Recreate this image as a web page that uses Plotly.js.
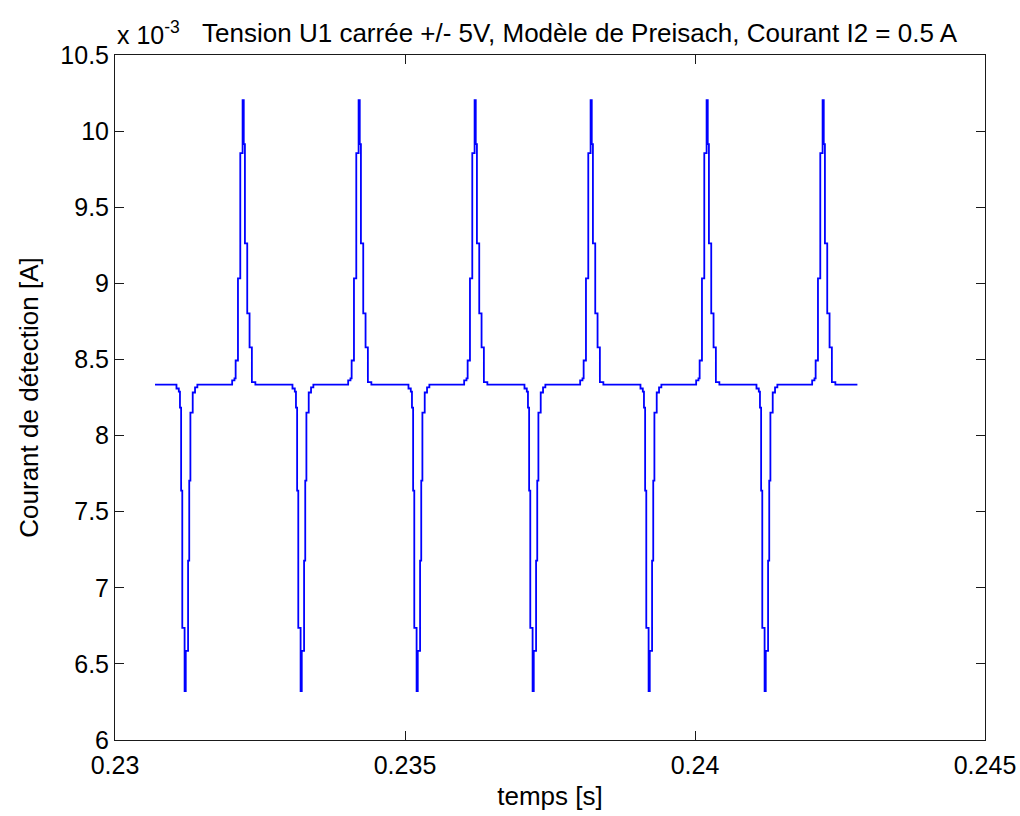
<!DOCTYPE html>
<html>
<head>
<meta charset="utf-8">
<script src="https://cdn.plot.ly/plotly-3.0.1.min.js"></script>
<style>html,body{margin:0;padding:0;background:#fff;}#chart{width:1020px;height:816px;}</style>
</head>
<body>
<div id="chart"></div>
<script>
// Time samples [s]
const temps_s = [
  0.23069,
  0.23106, 0.23110, 0.23112, 0.23114, 0.23116, 0.23120, 0.23122, 0.23126, 0.23128, 0.23130, 0.23134, 0.23138, 0.23142,
  0.23202, 0.23206, 0.23208, 0.23212, 0.23216, 0.23220, 0.23222, 0.23224, 0.23228, 0.23232, 0.23236, 0.23242,
  0.23306, 0.23310, 0.23312, 0.23314, 0.23316, 0.23320, 0.23322, 0.23326, 0.23328, 0.23330, 0.23334, 0.23338, 0.23342,
  0.23402, 0.23406, 0.23408, 0.23412, 0.23416, 0.23420, 0.23422, 0.23424, 0.23428, 0.23432, 0.23436, 0.23442,
  0.23506, 0.23510, 0.23512, 0.23514, 0.23516, 0.23520, 0.23522, 0.23526, 0.23528, 0.23530, 0.23534, 0.23538, 0.23542,
  0.23602, 0.23606, 0.23608, 0.23612, 0.23616, 0.23620, 0.23622, 0.23624, 0.23628, 0.23632, 0.23636, 0.23642,
  0.23706, 0.23710, 0.23712, 0.23714, 0.23716, 0.23720, 0.23722, 0.23726, 0.23728, 0.23730, 0.23734, 0.23738, 0.23742,
  0.23802, 0.23806, 0.23808, 0.23812, 0.23816, 0.23820, 0.23822, 0.23824, 0.23828, 0.23832, 0.23836, 0.23842,
  0.23906, 0.23910, 0.23912, 0.23914, 0.23916, 0.23920, 0.23922, 0.23926, 0.23928, 0.23930, 0.23934, 0.23938, 0.23942,
  0.24002, 0.24006, 0.24008, 0.24012, 0.24016, 0.24020, 0.24022, 0.24024, 0.24028, 0.24032, 0.24036, 0.24042,
  0.24106, 0.24110, 0.24112, 0.24114, 0.24116, 0.24120, 0.24122, 0.24126, 0.24128, 0.24130, 0.24134, 0.24138, 0.24142,
  0.24202, 0.24206, 0.24208, 0.24212, 0.24216, 0.24220, 0.24222, 0.24224, 0.24228, 0.24232, 0.24236, 0.24242,
  0.24280
];

// Detection current [x 10^-3 A]
const courant_mA = [
  8.335,
  8.309, 8.289, 8.184, 7.638, 6.737, 6.322, 6.586, 7.178, 7.704, 8.151, 8.283, 8.316, 8.335,
  8.362, 8.375, 8.493, 9.033, 9.855, 10.204, 9.914, 9.263, 8.803, 8.579, 8.351, 8.335,
  8.309, 8.289, 8.184, 7.638, 6.737, 6.322, 6.586, 7.178, 7.704, 8.151, 8.283, 8.316, 8.335,
  8.362, 8.375, 8.493, 9.033, 9.855, 10.204, 9.914, 9.263, 8.803, 8.579, 8.351, 8.335,
  8.309, 8.289, 8.184, 7.638, 6.737, 6.322, 6.586, 7.178, 7.704, 8.151, 8.283, 8.316, 8.335,
  8.362, 8.375, 8.493, 9.033, 9.855, 10.204, 9.914, 9.263, 8.803, 8.579, 8.351, 8.335,
  8.309, 8.289, 8.184, 7.638, 6.737, 6.322, 6.586, 7.178, 7.704, 8.151, 8.283, 8.316, 8.335,
  8.362, 8.375, 8.493, 9.033, 9.855, 10.204, 9.914, 9.263, 8.803, 8.579, 8.351, 8.335,
  8.309, 8.289, 8.184, 7.638, 6.737, 6.322, 6.586, 7.178, 7.704, 8.151, 8.283, 8.316, 8.335,
  8.362, 8.375, 8.493, 9.033, 9.855, 10.204, 9.914, 9.263, 8.803, 8.579, 8.351, 8.335,
  8.309, 8.289, 8.184, 7.638, 6.737, 6.322, 6.586, 7.178, 7.704, 8.151, 8.283, 8.316, 8.335,
  8.362, 8.375, 8.493, 9.033, 9.855, 10.204, 9.914, 9.263, 8.803, 8.579, 8.351, 8.335,
  8.335
];

const titre = 'Tension U1 carrée +/- 5V, Modèle de Preisach, Courant I2 = 0.5 A';
const xLabel = 'temps [s]';
const yLabel = 'Courant de détection [A]';
const multiplicateur = 'x 10<sup>-3</sup>';
const xTicks = [0.23, 0.235, 0.24, 0.245];
const yTicks = [6, 6.5, 7, 7.5, 8, 8.5, 9, 9.5, 10, 10.5];

const FONT = '"Liberation Sans", Arial, Helvetica, sans-serif';
const W = 1020, H = 816;
const margin = {l: 115, r: 35, t: 55, b: 76};
const axisCommon = {
  showline: true, linecolor: '#1a1a1a', linewidth: 1, mirror: 'ticks',
  ticks: 'inside', ticklen: 9, tickwidth: 1, tickcolor: '#1a1a1a',
  showgrid: false, zeroline: false,
  tickfont: {family: FONT, size: 25, color: '#000'}
};

const trace = {
  x: temps_s, y: courant_mA, type: 'scatter', mode: 'lines',
  line: {color: '#0000ff', width: 1.8, shape: 'hv'},
  hoverinfo: 'x+y'
};

const layout = {
  width: W, height: H, margin: margin,
  paper_bgcolor: '#ffffff', plot_bgcolor: '#ffffff',
  showlegend: false,
  font: {family: FONT, color: '#000'},
  title: {text: titre, font: {family: FONT, size: 26, color: '#000'},
          xref: 'paper', x: 0.534, xanchor: 'center', yref: 'container', y: 1 - 33 / H, yanchor: 'middle'},
  xaxis: Object.assign({}, axisCommon, {
    range: [0.23, 0.245], tickvals: xTicks, ticktext: xTicks.map(String),
    ticklabelstandoff: 3,
    title: {text: xLabel, font: {family: FONT, size: 26, color: '#000'}, standoff: 8}
  }),
  yaxis: Object.assign({}, axisCommon, {
    range: [6, 10.5], tickvals: yTicks, ticktext: yTicks.map(String),
    title: {text: yLabel, font: {family: FONT, size: 26, color: '#000'}, standoff: 14}
  }),
  annotations: [{
    text: multiplicateur, xref: 'paper', yref: 'paper', x: 0, y: 1,
    xanchor: 'left', yanchor: 'bottom', yshift: 4, xshift: 0, showarrow: false,
    font: {family: FONT, size: 25, color: '#000'}
  }]
};

Plotly.newPlot('chart', [trace], layout, {displayModeBar: false, staticPlot: true});
</script>
</body>
</html>
